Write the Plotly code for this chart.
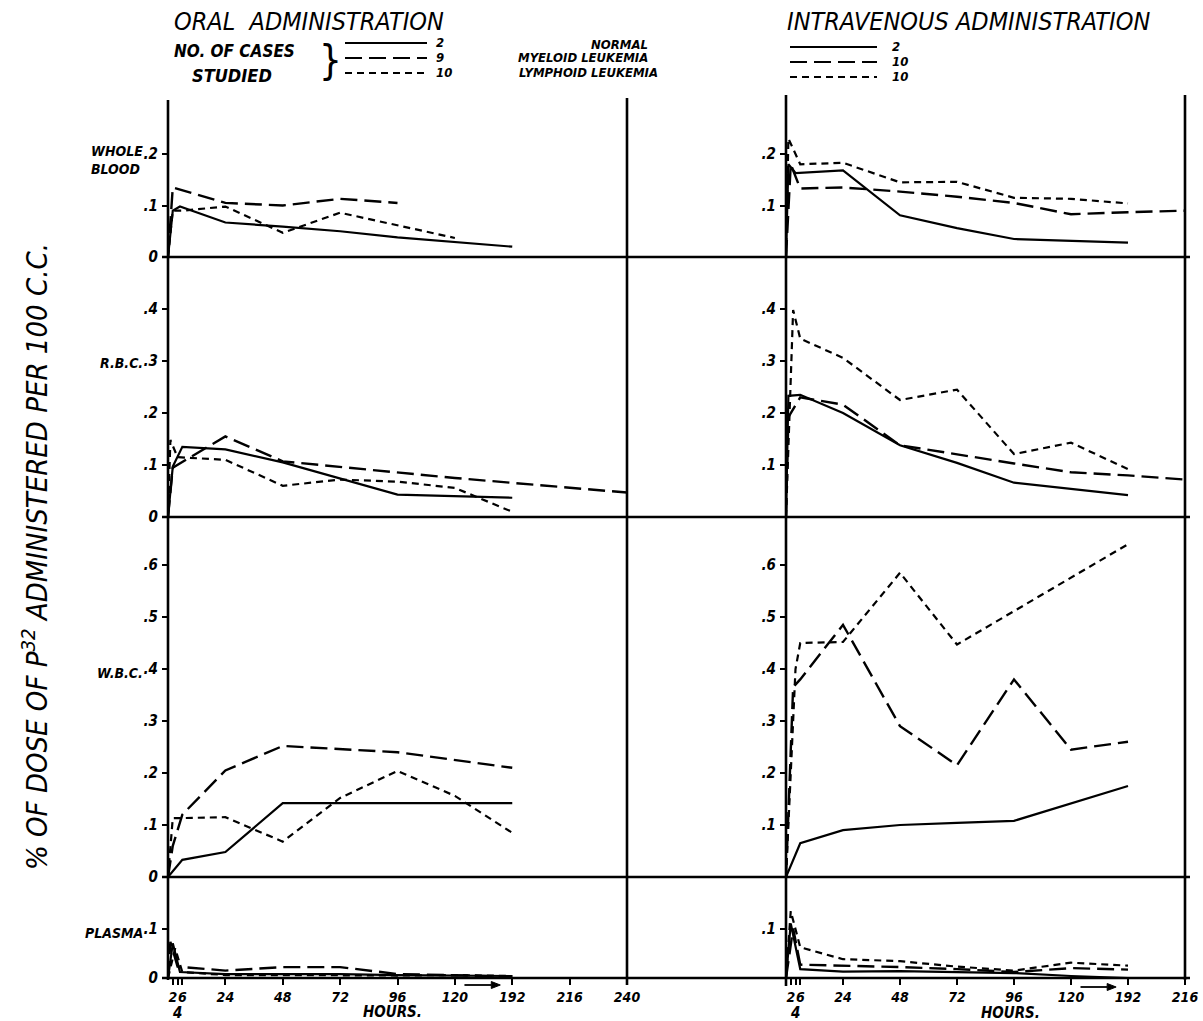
import plotly.graph_objects as go

# ---------------- DATA (hours, % of dose per 100 c.c.) ----------------
# Whole blood - oral
wb_oral_normal_h = [0, 2, 5, 24, 48, 72, 96, 192]
wb_oral_normal_v = [0, 0.09, 0.098, 0.067, 0.059, 0.05, 0.038, 0.02]
wb_oral_myeloid_h = [0, 2, 24, 48, 72, 96]
wb_oral_myeloid_v = [0, 0.135, 0.105, 0.10, 0.113, 0.105]
wb_oral_lymphoid_h = [0, 2, 6, 24, 48, 72, 120]
wb_oral_lymphoid_v = [0, 0.09, 0.09, 0.098, 0.047, 0.086, 0.037]
# Whole blood - intravenous
wb_iv_normal_h = [0, 1, 4, 24, 48, 72, 96, 192]
wb_iv_normal_v = [0, 0.18, 0.163, 0.168, 0.081, 0.056, 0.035, 0.028]
wb_iv_myeloid_h = [0, 2, 6, 24, 48, 72, 96, 120, 192, 216]
wb_iv_myeloid_v = [0, 0.18, 0.133, 0.135, 0.127, 0.117, 0.105, 0.083, 0.087, 0.09]
wb_iv_lymphoid_h = [0, 1, 6, 24, 48, 72, 96, 120, 192]
wb_iv_lymphoid_v = [0, 0.23, 0.18, 0.183, 0.145, 0.146, 0.115, 0.113, 0.104]
# R.B.C. - oral
rbc_oral_normal_h = [0, 2, 6, 24, 48, 72, 96, 192]
rbc_oral_normal_v = [0, 0.097, 0.135, 0.13, 0.105, 0.074, 0.043, 0.037]
rbc_oral_myeloid_h = [0, 2, 24, 48, 120, 240]
rbc_oral_myeloid_v = [0, 0.095, 0.155, 0.107, 0.075, 0.047]
rbc_oral_lymphoid_h = [0, 1, 4, 24, 48, 72, 96, 120, 192]
rbc_oral_lymphoid_v = [0, 0.148, 0.115, 0.11, 0.06, 0.072, 0.068, 0.056, 0.01]
# R.B.C. - intravenous
rbc_iv_normal_h = [0, 1, 6, 24, 48, 72, 96, 120, 192]
rbc_iv_normal_v = [0, 0.233, 0.235, 0.20, 0.138, 0.104, 0.066, 0.054, 0.042]
rbc_iv_myeloid_h = [0, 1, 6, 24, 48, 72, 96, 120, 192, 216]
rbc_iv_myeloid_v = [0, 0.192, 0.23, 0.216, 0.138, 0.12, 0.103, 0.086, 0.08, 0.072]
rbc_iv_lymphoid_h = [0, 3, 6, 24, 48, 72, 96, 120, 192]
rbc_iv_lymphoid_v = [0, 0.398, 0.343, 0.306, 0.225, 0.245, 0.121, 0.143, 0.092]
# W.B.C. - oral
wbc_oral_normal_h = [0, 6, 24, 48, 192]
wbc_oral_normal_v = [0, 0.033, 0.048, 0.142, 0.142]
wbc_oral_myeloid_h = [0, 2, 6, 24, 48, 96, 192]
wbc_oral_myeloid_v = [0, 0.06, 0.12, 0.205, 0.252, 0.24, 0.21]
wbc_oral_lymphoid_h = [0, 2, 24, 48, 72, 96, 120, 192]
wbc_oral_lymphoid_v = [0, 0.113, 0.115, 0.068, 0.152, 0.204, 0.156, 0.085]
# W.B.C. - intravenous
wbc_iv_normal_h = [0, 6, 24, 48, 72, 96, 192]
wbc_iv_normal_v = [0, 0.065, 0.09, 0.10, 0.104, 0.108, 0.175]
wbc_iv_myeloid_h = [0, 3, 6, 24, 48, 72, 96, 120, 192]
wbc_iv_myeloid_v = [0, 0.365, 0.38, 0.485, 0.29, 0.215, 0.38, 0.245, 0.26]
wbc_iv_lymphoid_h = [0, 4, 6, 24, 48, 72, 192]
wbc_iv_lymphoid_v = [0, 0.40, 0.45, 0.452, 0.585, 0.447, 0.64]
# Plasma - oral
pl_oral_normal_h = [0, 2, 5, 24, 48, 72, 96, 120, 192]
pl_oral_normal_v = [0, 0.07, 0.012, 0.008, 0.008, 0.008, 0.006, 0.005, 0.004]
pl_oral_myeloid_h = [0, 1, 4, 24, 48, 72, 96, 192]
pl_oral_myeloid_v = [0, 0.073, 0.023, 0.015, 0.022, 0.022, 0.008, 0.003]
pl_oral_lymphoid_h = [0, 3, 6, 24, 48, 96, 120, 192]
pl_oral_lymphoid_v = [0, 0.06, 0.012, 0.006, 0.006, 0.005, 0.006, 0.004]
# Plasma - intravenous
pl_iv_normal_h = [0, 2, 6, 24, 48, 72, 96, 120, 192]
pl_iv_normal_v = [0, 0.11, 0.018, 0.013, 0.014, 0.012, 0.010, 0.004, 0.0]
pl_iv_myeloid_h = [0, 3, 6, 24, 48, 72, 96, 120, 192]
pl_iv_myeloid_v = [0, 0.10, 0.027, 0.025, 0.022, 0.018, 0.012, 0.02, 0.017]
pl_iv_lymphoid_h = [0, 2, 6, 24, 48, 72, 96, 120, 192]
pl_iv_lymphoid_v = [0, 0.135, 0.062, 0.038, 0.034, 0.023, 0.015, 0.031, 0.025]

panel_names = ["WHOLE<br>BLOOD", "R.B.C.", "W.B.C.", "PLASMA"]
groups = ["NORMAL", "MYELOID LEUKEMIA", "LYMPHOID LEUKEMIA"]
oral_cases = ["2", "9", "10"]
iv_cases = ["2", "10", "10"]
left_hour_ticks = [2, 6, 24, 48, 72, 96, 120, 192, 216, 240]
right_hour_ticks = [2, 6, 24, 48, 72, 96, 120, 192, 216]
minor_hour_ticks = [4]
break_hours = [120, 192]     # the time axis jumps from 120 h straight to 192 h
y_ticks_left = [[0, 0.1, 0.2], [0, 0.1, 0.2, 0.3, 0.4],
                [0, 0.1, 0.2, 0.3, 0.4, 0.5, 0.6], [0, 0.1]]
y_ticks_right = [[0.1, 0.2], [0.1, 0.2, 0.3, 0.4],
                 [0.1, 0.2, 0.3, 0.4, 0.5, 0.6], [0.1]]

series = [
    [(wb_oral_normal_h, wb_oral_normal_v), (wb_oral_myeloid_h, wb_oral_myeloid_v), (wb_oral_lymphoid_h, wb_oral_lymphoid_v),
     (wb_iv_normal_h, wb_iv_normal_v), (wb_iv_myeloid_h, wb_iv_myeloid_v), (wb_iv_lymphoid_h, wb_iv_lymphoid_v)],
    [(rbc_oral_normal_h, rbc_oral_normal_v), (rbc_oral_myeloid_h, rbc_oral_myeloid_v), (rbc_oral_lymphoid_h, rbc_oral_lymphoid_v),
     (rbc_iv_normal_h, rbc_iv_normal_v), (rbc_iv_myeloid_h, rbc_iv_myeloid_v), (rbc_iv_lymphoid_h, rbc_iv_lymphoid_v)],
    [(wbc_oral_normal_h, wbc_oral_normal_v), (wbc_oral_myeloid_h, wbc_oral_myeloid_v), (wbc_oral_lymphoid_h, wbc_oral_lymphoid_v),
     (wbc_iv_normal_h, wbc_iv_normal_v), (wbc_iv_myeloid_h, wbc_iv_myeloid_v), (wbc_iv_lymphoid_h, wbc_iv_lymphoid_v)],
    [(pl_oral_normal_h, pl_oral_normal_v), (pl_oral_myeloid_h, pl_oral_myeloid_v), (pl_oral_lymphoid_h, pl_oral_lymphoid_v),
     (pl_iv_normal_h, pl_iv_normal_v), (pl_iv_myeloid_h, pl_iv_myeloid_v), (pl_iv_lymphoid_h, pl_iv_lymphoid_v)],
]

# ---------------- LAYOUT GEOMETRY ----------------
W, H = 1203, 1021
ML, MR, MT, MB = 168, 18, 100, 43
PW, PH = W - ML - MR, H - MT - MB


def px(x):
    return (x - ML) / PW


def py(y):
    return (H - MB - y) / PH


BREAK_SHIFT = (break_hours[1] - break_hours[0]) - 24   # 192 h sits one step after 120 h


def hpos(h):
    # broken time axis: 120 h is followed directly by 192 h
    return h if h <= break_hours[0] else h - BREAK_SHIFT


row_pix = [(100, 257), (257, 517), (517, 877), (877, 978)]
row_scale = [515, 520, 520, 495]          # pixels per unit of %
col_pix = [(168, 627), (786, 1185)]
col_range = [[0, hpos(240)], [0, hpos(216)]]

FONT = "DejaVu Sans Condensed, Liberation Sans Narrow, DejaVu Sans, sans-serif"
styles = [dict(dash="solid", width=2.2),
          dict(dash="17px,7px", width=2.4),
          dict(dash="7px,5px", width=2.2)]

fig = go.Figure()
layout = dict(width=W, height=H, margin=dict(l=ML, r=MR, t=MT, b=MB, autoexpand=False),
              paper_bgcolor="white", plot_bgcolor="white", showlegend=False,
              font=dict(family=FONT, color="black"))

for r in range(4):
    for c in range(2):
        k = r * 2 + c + 1
        sx = "" if k == 1 else str(k)
        top, bot = row_pix[r]
        yr = [0, (bot - top) / row_scale[r]]
        ticks = y_ticks_left[r] if c == 0 else y_ticks_right[r]
        layout["yaxis" + sx] = dict(
            domain=[py(bot), py(top)], range=yr, anchor="x" + sx,
            tickvals=ticks,
            ticktext=[("0" if t == 0 else ("%.1f" % t)[1:]) for t in ticks],
            ticks="outside", ticklen=5, tickwidth=2, tickcolor="black",
            ticklabelstandoff=1,
            tickfont=dict(family=FONT, size=15, weight="bold", style="italic"),
            showgrid=False, zeroline=False, showline=False, fixedrange=True,
            automargin=False)
        xa = dict(domain=[px(col_pix[c][0]), px(col_pix[c][1])], range=col_range[c],
                  anchor="y" + sx, showgrid=False, zeroline=False, showline=False,
                  fixedrange=True, automargin=False)
        if r == 3:
            hts = left_hour_ticks if c == 0 else right_hour_ticks
            xa.update(tickvals=[hpos(h) for h in hts],
                      ticktext=[str(h) for h in hts],
                      ticks="outside", ticklen=6, tickwidth=2, tickcolor="black",
                      tickangle=0,
                      minor=dict(tickvals=[hpos(h) for h in minor_hour_ticks],
                                 ticks="outside", ticklen=6, tickwidth=2,
                                 tickcolor="black", showgrid=False),
                      tickfont=dict(family=FONT, size=14, weight="bold", style="italic"))
        else:
            xa.update(showticklabels=False, ticks="")
        layout["xaxis" + sx] = xa
        for s in range(3):
            hh, vv = series[r][c * 3 + s]
            fig.add_trace(go.Scatter(
                x=[hpos(h) for h in hh], y=vv, mode="lines",
                line=dict(color="black", **styles[s]),
                xaxis="x" + sx, yaxis="y" + sx, name=groups[s],
                hoverinfo="skip"))

# ---------------- FRAME LINES ----------------
shapes = []
LW = 2.6
for y in [257, 517, 877, 978]:
    shapes.append(dict(type="line", xref="paper", yref="paper",
                       x0=px(162), x1=px(1190), y0=py(y), y1=py(y),
                       line=dict(color="black", width=LW)))
for x, y0, y1 in [(168, 100, 980), (627, 98, 985), (786, 95, 986), (1185, 95, 980)]:
    shapes.append(dict(type="line", xref="paper", yref="paper",
                       x0=px(x), x1=px(x), y0=py(y0), y1=py(y1),
                       line=dict(color="black", width=LW)))

# legend sample lines
for i, yy in enumerate([43, 58, 73]):
    shapes.append(dict(type="line", xref="paper", yref="paper",
                       x0=px(345), x1=px(427), y0=py(yy), y1=py(yy),
                       line=dict(color="black", width=2, dash=styles[i]["dash"])))
for i, yy in enumerate([47, 62, 77]):
    shapes.append(dict(type="line", xref="paper", yref="paper",
                       x0=px(790), x1=px(877), y0=py(yy), y1=py(yy),
                       line=dict(color="black", width=2, dash=styles[i]["dash"])))

# arrows across the time-axis break (120 h -> 192 h): x in axis units, y in paper
for sx, ypix in [("7", 985), ("8", 987)]:
    yv = py(ypix)
    x0 = hpos(break_hours[0]) + 4
    x1 = hpos(break_hours[1]) - 5
    head_len, head_half = 9 / 2.39, 3.5 / PH
    shapes.append(dict(type="line", xref="x" + sx, yref="paper",
                       x0=x0, x1=x1 - head_len, y0=yv, y1=yv,
                       line=dict(color="black", width=1.8)))
    shapes.append(dict(type="path", xref="x" + sx, yref="paper",
                       path=f"M {x1},{yv} L {x1 - head_len},{yv + head_half} "
                            f"L {x1 - head_len},{yv - head_half} Z",
                       fillcolor="black", line=dict(color="black", width=1)))
layout["shapes"] = shapes

# ---------------- TEXT ----------------
ann = []


def text(t, x, y, size, xanchor="left", bold=True, italic=True, angle=0, align="left"):
    ann.append(dict(text=t, x=px(x), y=py(y), xref="paper", yref="paper",
                    xanchor=xanchor, yanchor="middle", showarrow=False,
                    textangle=angle, align=align,
                    font=dict(family=FONT, size=size, color="black",
                              weight="bold" if bold else "normal",
                              style="italic" if italic else "normal")))


text("ORAL  ADMINISTRATION", 172, 22, 25, bold=False)
text("INTRAVENOUS ADMINISTRATION", 785, 22, 25, bold=False)
text("NO. OF CASES", 172, 51, 17)
text("STUDIED", 190, 75, 18)
text("}", 330, 60, 40, xanchor="center", bold=False, italic=False)
for i, yy in enumerate([43, 58, 73]):
    text(oral_cases[i], 434, yy, 13)
for i, yy in enumerate([47, 62, 77]):
    text(iv_cases[i], 890, yy, 13)
for i, (yy, xr) in enumerate([(44, 650), (58, 650), (72, 660)]):
    text(groups[i], xr, yy, 13, xanchor="right")

for r, (nm, yy) in enumerate(zip(panel_names, [160, 363, 673, 933])):
    text(nm, 145, yy, 14, xanchor="right")

text("% OF DOSE OF P<sup>32</sup> ADMINISTERED PER 100 C.C.", 35, 557, 29,
     xanchor="center", bold=False, angle=-90)
text("HOURS.", 392, 1012, 15, xanchor="center")
text("HOURS.", 1010, 1013, 15, xanchor="center")

# "4" label under the 2 & 6 ticks
for sx in ["7", "8"]:
    ann.append(dict(text=str(minor_hour_ticks[0]), x=hpos(minor_hour_ticks[0]),
                    y=py(1013), xref="x" + sx, yref="paper",
                    xanchor="center", yanchor="middle", showarrow=False,
                    font=dict(family=FONT, size=15, weight="bold", style="italic")))
layout["annotations"] = ann

fig.update_layout(**layout)
fig.write_html("out.html", config={"displayModeBar": False},
               post_script="document.body.style.margin='0';")
